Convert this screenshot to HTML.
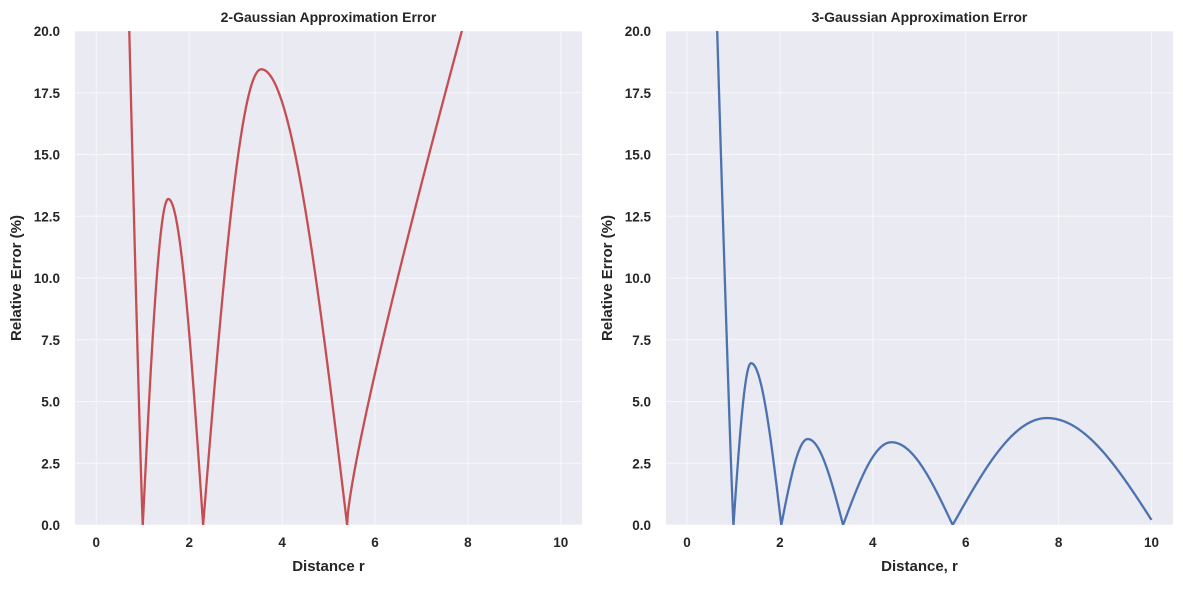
<!DOCTYPE html>
<html><head><meta charset="utf-8"><style>
html,body{margin:0;padding:0;background:#fff;}
svg text{font-family:"Liberation Sans",Arial,sans-serif;font-weight:bold;fill:#262626;}
</style></head><body>
<svg id="s" width="1183" height="584" xmlns="http://www.w3.org/2000/svg"></svg>
<script>
const s=document.getElementById('s');let h='';
function panel(L,x0,title,xlab,color,segs){
  const R=L+507,T=31,B=525;
  const X=v=>x0+v*46.45, Y=v=>B-v*24.7;
  h+=`<rect x="${L}" y="${T}" width="507" height="${B-T}" fill="#eaeaf2"/>`;
  for(let v=0;v<=10;v+=2){h+=`<line x1="${X(v)}" x2="${X(v)}" y1="${T}" y2="${B}" stroke="#fff" stroke-opacity="0.6" stroke-width="1"/>`;
    h+=`<text x="${X(v)}" y="${B+22}" font-size="13.5" text-anchor="middle">${v}</text>`;}
  for(let i=0;i<=8;i++){const v=i*2.5;h+=`<line x1="${L}" x2="${R}" y1="${Y(v)}" y2="${Y(v)}" stroke="#fff" stroke-opacity="0.6" stroke-width="1"/>`;
    h+=`<text x="${L-15}" y="${Y(v)+5}" font-size="13.5" text-anchor="end">${v.toFixed(1)}</text>`;}
  h+=`<text x="${(L+R)/2}" y="22" font-size="14" text-anchor="middle">${title}</text>`;
  h+=`<text x="${(L+R)/2}" y="571" font-size="15" text-anchor="middle">${xlab}</text>`;
  h+=`<text transform="translate(${L-54},${(T+B)/2}) rotate(-90)" font-size="15" text-anchor="middle">Relative Error (%)</text>`;
  let d='';
  for(const sg of segs){for(let k=0;k<=200;k++){const x=sg.a+(sg.b-sg.a)*k/200;let y=sg.f(x);if(y>20.3)y=20.3;
    d+=(d?'L':'M')+X(x).toFixed(2)+','+Y(Math.max(0,y)).toFixed(2);}}
  h+=`<clipPath id="c${L}"><rect x="${L}" y="${T}" width="507" height="${B-T}"/></clipPath>`;
  h+=`<path d="${d}" fill="none" stroke="${color}" stroke-width="2.3" stroke-linejoin="round" clip-path="url(#c${L})"/>`;
}
function hump(z0,z1,p,ht){return {a:z0,b:z1,f:x=>{const t=x<p?(x-z0)/(p-z0)*0.5:0.5+(x-p)/(z1-p)*0.5;return ht*Math.sin(Math.PI*t);}};}
panel(75,96.3,"2-Gaussian Approximation Error","Distance r","#c44e52",[
 {a:0.7,b:1.0,f:x=>20*Math.pow((1.0-x)/0.29,1.1)},
 hump(1.0,2.3,1.55,13.2),hump(2.3,5.4,3.55,18.45),
 {a:5.4,b:8.0,f:x=>{const u=(x-5.4)/2.47;return 20*(0.8*Math.pow(u,0.95)+0.2*Math.sin(Math.PI*u/2)*0+0.2*Math.pow(u,0.5))*(1)-0;}}]);
panel(666,687,"3-Gaussian Approximation Error","Distance, r","#4c72b0",[
 {a:0.64,b:1.0,f:x=>20*Math.pow((1.0-x)/0.35,1.1)},
 hump(1.0,2.03,1.38,6.55),hump(2.03,3.36,2.6,3.48),hump(3.36,5.72,4.4,3.35),
 {a:5.72,b:10.0,f:x=>{const z0=5.72,z1=10.07,p=7.75,ht=4.33;const t=x<p?(x-z0)/(p-z0)*0.5:0.5+(x-p)/(z1-p)*0.5;return ht*Math.sin(Math.PI*t);}}]);
s.innerHTML=h;
</script>
</body></html>
